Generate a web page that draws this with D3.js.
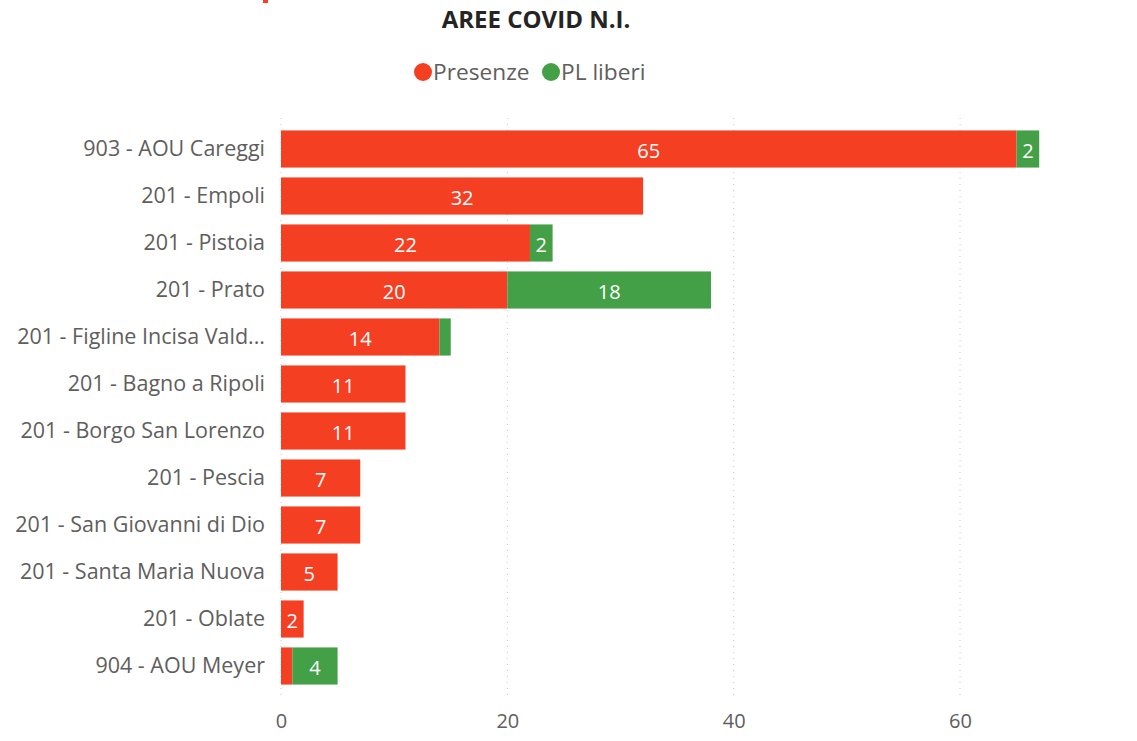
<!DOCTYPE html>
<html>
<head>
<meta charset="utf-8">
<script src="https://cdn.jsdelivr.net/npm/d3@7"></script>
<style>
  body { margin: 0; background: #fff; }
  svg { font-family: "Open Sans", "Noto Sans", sans-serif; }
</style>
</head>
<body>
<svg id="chart"></svg>
<script>
let categories = [
  "903 - AOU Careggi",
  "201 - Empoli",
  "201 - Pistoia",
  "201 - Prato",
  "201 - Figline Incisa Vald...",
  "201 - Bagno a Ripoli",
  "201 - Borgo San Lorenzo",
  "201 - Pescia",
  "201 - San Giovanni di Dio",
  "201 - Santa Maria Nuova",
  "201 - Oblate",
  "904 - AOU Meyer"
];
let presenze = [65, 32, 22, 20, 14, 11, 11, 7, 7, 5, 2, 1];
let plLiberi = [2, 0, 2, 18, 1, 0, 0, 0, 0, 0, 0, 4];
let xTicks = [0, 20, 40, 60];
let seriesNames = ["Presenze", "PL liberi"];
let colors = ["#F53F23", "#43A047"];

let fontFam = "'Open Sans', 'Noto Sans', sans-serif";
let width = 1137;
let height = 741;

let svg = d3.select("#chart").attr("width", width).attr("height", height);

let xScale = d3.scaleLinear().domain([0, 60]).range([281, 960]);
let yScale = d3.scaleBand().domain(categories).range([125.5, 689.5]).paddingInner(0.21).paddingOuter(0.105);

// small cut-off mark at top
svg.append("rect").attr("x", 263).attr("y", 0).attr("width", 5).attr("height", 3).attr("fill", "#F53F23");

// title
svg.append("text")
  .attr("x", 536).attr("y", 28)
  .attr("text-anchor", "middle")
  .attr("font-size", 24).attr("font-weight", "bold")
  .attr("fill", "#252423")
  .text("AREE COVID N.I.");

// legend
let legend = svg.append("g");
let lx = [423, 551];
seriesNames.forEach((name, i) => {
  legend.append("circle").attr("cx", lx[i]).attr("cy", 72).attr("r", 9).attr("fill", colors[i]);
  legend.append("text")
    .attr("x", lx[i] + 10).attr("y", 80)
    .attr("font-size", 22.7).attr("fill", "#605E5C")
    .text(name);
});

// gridlines
svg.append("g")
  .selectAll("line")
  .data(xTicks)
  .enter()
  .append("line")
  .attr("x1", (d) => xScale(d)).attr("x2", (d) => xScale(d))
  .attr("y1", 118).attr("y2", 700)
  .attr("stroke", "#C8C8C8")
  .attr("stroke-width", 1)
  .attr("stroke-dasharray", "1,5");

// x axis
let xAxis = d3.axisBottom(xScale).tickValues(xTicks).tickSize(0).tickPadding(0);
let gx = svg.append("g").attr("transform", "translate(0, 710)").call(xAxis);
gx.attr("font-family", fontFam);
gx.select(".domain").remove();
gx.selectAll("text").attr("font-size", 20).attr("fill", "#605E5C").attr("dy", "0.9em");

// y axis
let yAxis = d3.axisLeft(yScale).tickSize(0).tickPadding(0);
let gy = svg.append("g").attr("transform", "translate(265, 0)").call(yAxis);
gy.attr("font-family", fontFam);
gy.select(".domain").remove();
gy.selectAll("text").attr("font-size", 21.5).attr("fill", "#605E5C");

// bars
let rows = categories.map((c, i) => ({ cat: c, p: presenze[i], l: plLiberi[i] }));

let bars = svg.append("g");
rows.forEach((r) => {
  let y = yScale(r.cat);
  let h = yScale.bandwidth();
  bars.append("rect")
    .attr("x", xScale(0)).attr("y", y)
    .attr("width", xScale(r.p) - xScale(0)).attr("height", h)
    .attr("fill", colors[0]);
  if (r.l > 0) {
    bars.append("rect")
      .attr("x", xScale(r.p)).attr("y", y)
      .attr("width", xScale(r.p + r.l) - xScale(r.p)).attr("height", h)
      .attr("fill", colors[1]);
  }
  if (r.p >= 2) {
    bars.append("text")
      .attr("x", (xScale(0) + xScale(r.p)) / 2).attr("y", y + h / 2 + 4)
      .attr("text-anchor", "middle").attr("dominant-baseline", "middle")
      .attr("font-size", 20).attr("fill", "#fff")
      .text(r.p);
  }
  if (r.l >= 2) {
    bars.append("text")
      .attr("x", (xScale(r.p) + xScale(r.p + r.l)) / 2).attr("y", y + h / 2 + 4)
      .attr("text-anchor", "middle").attr("dominant-baseline", "middle")
      .attr("font-size", 20).attr("fill", "#fff")
      .text(r.l);
  }
});
</script>
</body>
</html>
